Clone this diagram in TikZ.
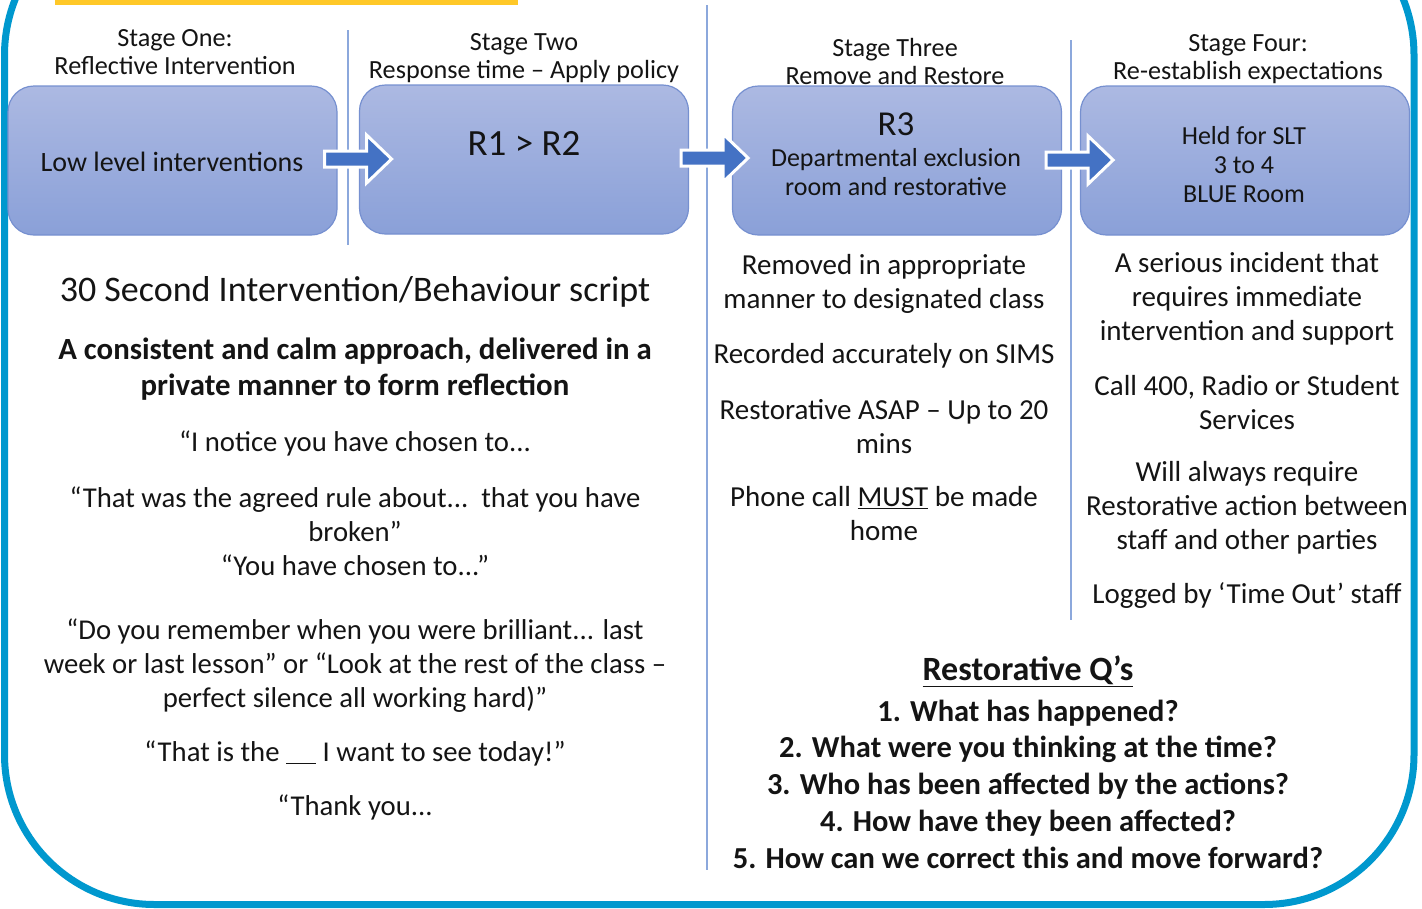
\documentclass[tikz,border=0pt]{standalone}
\usepackage{fontspec}
\setmainfont{Carlito}
\usetikzlibrary{calc}
\definecolor{frameblue}{RGB}{0,152,206}
\definecolor{barcol}{RGB}{255,200,40}
\definecolor{sepblue}{RGB}{140,168,220}
\definecolor{boxtop}{RGB}{172,185,226}
\definecolor{boxbot}{RGB}{138,160,216}
\definecolor{boxedge}{RGB}{118,144,208}
\definecolor{arrowblue}{RGB}{68,114,196}
\definecolor{txt}{RGB}{20,20,20}
\newcommand{\fs}[2]{\fontsize{#1pt}{#2pt}\selectfont}
\tikzset{
  stagebox/.style={draw=boxedge, line width=1.2pt, rounded corners=26pt,
    top color=boxtop, bottom color=boxbot,
    minimum width=329pt, minimum height=149pt, inner sep=0pt},
  blockarrow/.style={fill=arrowblue, draw=white, line width=3pt, line join=miter},
  seprule/.style={draw=sepblue, line width=1.5pt},
  stagelbl/.style={text=txt, align=center, inner sep=0pt, font=\fs{26.2}{28}},
  boxtxt/.style={text=txt, align=center, inner sep=0pt, font=\fs{26}{29}},
  body/.style={text=txt, align=center, inner sep=0pt, font=\fs{29}{34}},
  quote/.style={text=txt, align=center, inner sep=0pt, font=\fs{28.7}{34}},
  boldbody/.style={text=txt, align=center, inner sep=0pt, font=\bfseries\fs{30.8}{36}},
  qlist/.style={text=txt, align=center, inner sep=0pt, font=\bfseries\fs{30.5}{36.7}},
}
\begin{document}
\begin{tikzpicture}[x=1pt,y=-1pt]
\useasboundingbox (0,0) rectangle (1422,908);
\clip (0,0) rectangle (1422,908);
% outer frame and top bar
\draw[draw=frameblue, line width=7pt, rounded corners=150pt] (4.5,-95) rectangle (1414,904.5);
\fill[fill=barcol] (55,-2) rectangle (518,5);
% separators
\draw[seprule] (348,30) -- (348,245);
\draw[seprule] (707,5) -- (707,870);
\draw[seprule] (1071,40) -- (1071,620);
% stage labels
\node[stagelbl] (s1) at (175,52) {Stage One:\\Reflective Intervention};
\node[stagelbl] (s2) at (524,58) {Stage Two\\Response time -- Apply policy};
\node[stagelbl] (s3) at (895,61) {Stage Three\\Remove and Restore};
\node[stagelbl] (s4) at (1248,59) {Stage Four:\\Re-establish expectations};
% boxes
\node[stagebox] (b1) at (172.5,160.5) {};
\node[stagebox] (b2) at (524,159.5) {};
\node[stagebox] (b3) at (897,160.5) {};
\node[stagebox] (b4) at (1245,160.5) {};
\node[boxtxt, font=\fs{28}{30}] (t1) at (172,162) {Low level interventions};
\node[boxtxt, font=\fs{37}{40}] (t2) at (524,143) {R1 > R2};
\node[boxtxt, font=\fs{35}{38}] (t3a) at (896,124) {R3};
\node[boxtxt] (t3b) at (896,172) {Departmental exclusion\\room and restorative};
\node[boxtxt] (t4) at (1244,165) {Held for SLT\\3 to 4\\BLUE Room};
% block arrows between boxes
\coordinate (a1) at ($(b1.east)+(-13,-1.5)$);
\coordinate (a2) at ($(b2.east)+(-8,-1.5)$);
\coordinate (a3) at ($(b3.east)+(-16,-0.5)$);
\foreach \a in {a1,a2,a3}{
  \filldraw[blockarrow] (\a) ++(0,-8) -- ++(42,0) -- ++(0,-16) -- ++(25,24)
     -- ++(-25,24) -- ++(0,-16) -- ++(-42,0) -- cycle;
}
% left column
\node[text=txt, inner sep=0pt, font=\fs{36}{40}] (l1) at (355,292) {30 Second Intervention/Behaviour script};
\node[boldbody] (l2) at (355,369) {A consistent and calm approach, delivered in a\\private manner to form reflection};
\node[quote] (l3) at (355,443) {“I notice you have chosen to...};
\node[quote] (l4) at (355,531) {“That was the agreed rule about...\ \ that you have\\broken”\\“You have chosen to...”};
\node[quote] (l5) at (355,666) {“Do you remember when you were brilliant... last\\week or last lesson” or “Look at the rest of the class --\\perfect silence all working hard)”};
\node[quote] (l6) at (355,753) {“That is the \rule[-3pt]{30pt}{1.2pt} I want to see today!”};
\node[quote] (l7) at (355,807) {“Thank you...};
% middle column
\node[body] (m1) at (884,284) {Removed in appropriate\\manner to designated class};
\node[body] (m2) at (884,356) {Recorded accurately on SIMS};
\node[body] (m3) at (884,427) {Restorative ASAP -- Up to 20\\mins};
\node[body] (m4) at (884,514) {Phone call \underline{MUST} be made\\home};
% right column
\node[body] (r1) at (1247,299) {A serious incident that\\requires immediate\\intervention and support};
\node[body] (r2) at (1247,403) {Call 400, Radio or Student\\Services};
\node[body] (r3) at (1247,508) {Will always require\\Restorative action between\\staff and other parties};
\node[body] (r4) at (1247,596) {Logged by ‘Time Out’ staff};
% restorative questions
\node[text=txt, inner sep=0pt, font=\bfseries\fs{34}{36}] (q0) at (1028,671) {\underline{Restorative Q’s}};
\node[qlist] (q1) at (1028,784) {1. What has happened?\\2. What were you thinking at the time?\\3. Who has been affected by the actions?\\4. How have they been affected?\\5. How can we correct this and move forward?};
\end{tikzpicture}
\end{document}
